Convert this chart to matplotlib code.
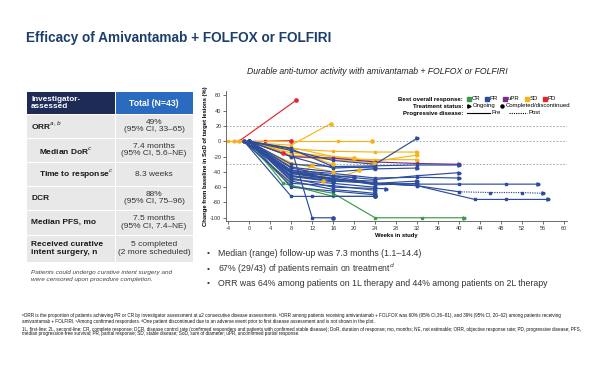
import matplotlib
matplotlib.use("Agg")
import matplotlib.pyplot as plt
from matplotlib import font_manager
from matplotlib.patches import Rectangle

# ---- data -------------------------------------------------------------
# spider plot: one entry per patient (weeks, % change in SoD)
pt_weeks = [
    [-2, 9], [-3, 3, 8], [-1, 3, 6.5],                                   # PD
    [-4, 8, 15.5], [-3, 8, 17, 23.5], [-2, 8, 16, 24, 32],               # SD
    [-1, 8, 16, 24, 32], [0, 8, 16, 24, 32], [-1, 8, 12], [0, 8, 16, 21],
    [-2, 8, 16, 20], [0, 8, 16, 24], [-1, 8, 16], [0, 8, 14], [-2, 8, 16],
    [0, 8, 16, 24, 32, 40],                                              # uPR
    [-1, 8, 16, 24, 33, 41], [0, 6.5, 16, 24],                           # CR
    [-1, 8, 12, 24], [0, 8, 12, 16], [0, 8, 16, 24, 32],                 # PR
    [0, 8, 16, 24, 32, 40], [0, 8, 16, 24, 32, 40], [-1, 8, 16, 24, 32, 40],
    [0, 8, 16, 24, 32, 40, 49, 55], [-1, 8, 16, 24, 32, 40, 46, 52, 56],
    [0, 8, 16, 24, 32, 43, 49, 57], [0, 8, 16, 24], [-1, 8, 16, 24],
    [0, 8, 16, 24], [0, 8, 16, 26], [-1, 8, 16, 24], [0, 8, 16, 20],
    [0, 8, 16, 24], [0, 8, 16, 24], [-1, 8, 12, 16], [0, 8, 16],
    [0, 8, 16, 24, 32], [-1, 8, 16, 24, 32], [0, 8, 16, 24, 32], [0, 8, 16, 24],
]
pt_change = [
    [0, 54], [0, 0, 1], [0, -5, -15],
    [0, -5, 23], [0, 0, 0, 0], [0, -10, -13, -14, -14],
    [0, -15, -20, -26, -18], [0, -18, -22, -24, -24], [0, -54, -31], [0, -32, -50, -38],
    [0, -8, -20, -22], [0, -20, -24, -28], [0, -28, -40], [0, -40, -52], [0, -12, -30],
    [0, -20, -22, -27, -29, -30],
    [0, -58, -68, -100, -100, -100], [0, -55, -72, -72],
    [0, -72, -72, -72], [0, -9, -100, -100], [0, -12, -25, -30, 4],
    [0, -30, -33, -32, -31, -31], [0, -40, -45, -50, -45, -41], [0, -38, -42, -48, -47, -48],
    [0, -45, -52, -55, -56, -56, -56, -56], [0, -40, -50, -55, -58, -66, -67, -67, -68],
    [0, -42, -50, -55, -58, -76, -76, -76], [0, -20, -35, -33], [0, -45, -50, -52],
    [0, -50, -55, -60], [0, -48, -60, -62], [0, -55, -58, -64], [0, -35, -45, -47],
    [0, -10, -33, -35], [0, -52, -63, -68], [0, -40, -44, -50], [0, -46, -53],
    [0, -38, -46, -55, -52], [0, -42, -48, -57, -55], [0, -34, -40, -36, -35], [0, -60, -65, -70],
]
pt_response = (["PD"] * 3 + ["SD"] * 12 + ["uPR"] + ["CR"] * 2 + ["PR"] * 23)
pt_ongoing = [
    False, False, False,
    False, False, True, True, True, False, False, False, True, False, False, False,
    True,
    True, False,
    False, False, True, True, True, True, True, True, True, True, True,
    True, True, True, False, True, True, False, False, True, True, True, True,
]
# index of the first point of the post-progression (dotted) part, None if none
pt_post_from = [None] * len(pt_weeks)
pt_post_from[25] = 5

response_colors = {"CR": "#3a9c48", "PR": "#2c4c9e", "uPR": "#7a2c8c",
                   "SD": "#f5b51a", "PD": "#e3262d"}

table_labels = ["ORR$^{a,b}$", "Median DoR$^{c}$", "Time to response$^{c}$", "DCR",
                "Median PFS, mo", "Received curative\nintent surgery, n"]
table_indent = [False, True, True, False, False, False]
table_values = ["49%\n(95% CI, 33\u201365)", "7.4 months\n(95% CI, 5.6\u2013NE)", "8.3 weeks",
                "88%\n(95% CI, 75\u201396)", "7.5 months\n(95% CI, 7.4\u2013NE)",
                "5 completed\n(2 more scheduled)"]

bullets = ["Median (range) follow-up was 7.3 months (1.1\u201314.4)",
           "67% (29/43) of patients remain on treatment$^{d}$",
           "ORR was 64% among patients on 1L therapy and 44% among patients on 2L therapy"]

footnotes = [
    "\u1d43ORR is the proportion of patients achieving PR or CR by investigator assessment at \u22652 consecutive disease assessments. "
    "\u1d47ORR among patients receiving amivantamab + FOLFOX was 60% (95% CI,36\u201381), and 39% (95% CI, 20\u201362) among patients receiving",
    "amivantamab + FOLFIRI. \u1d9cAmong confirmed responders. \u1d48One patient discontinued due to an adverse event prior to first disease "
    "assessment and is not shown in the plot.",
    "1L, first-line; 2L, second-line; CR, complete response; DCR, disease control rate (confirmed responders and patients with confirmed "
    "stable disease); DoR, duration of response; mo, months; NE, not estimable; ORR, objective response rate; PD, progressive disease; PFS,",
    "median progression-free survival; PR, partial response; SD, stable disease; SoD, sum of diameter; uPR, unconfirmed partial response.",
]

# ---- fonts --------------------------------------------------------------
installed = {f.name for f in font_manager.fontManager.ttflist}
plt.rcParams["font.family"] = ["Liberation Sans", "DejaVu Sans"]
plt.rcParams["mathtext.fontset"] = "custom"
plt.rcParams["mathtext.rm"] = "Liberation Sans"
plt.rcParams["axes.unicode_minus"] = False
narrow = "Liberation Sans Narrow" in installed
title_family = ["Liberation Sans Narrow", "Liberation Sans"] if narrow else ["Liberation Sans"]
title_size = 11.5 if narrow else 9.8

NAVY = "#1d3f6e"

fig = plt.figure(figsize=(6, 3.65), dpi=100)

# ---- spider plot --------------------------------------------------------
ax = fig.add_axes([0.377, 0.395, 0.568, 0.356])
for y in (20, 0, -30):
    ax.axhline(y, color="#9a9a9a", lw=0.6, ls=(0, (2, 2)), zorder=1)

for i, (wk, ch) in enumerate(zip(pt_weeks, pt_change)):
    c = response_colors[pt_response[i]]
    p = pt_post_from[i]
    if p is None:
        ax.plot(wk, ch, color=c, lw=0.85, marker="s", ms=1.5, zorder=3)
    else:
        ax.plot(wk[:p + 1], ch[:p + 1], color=c, lw=0.85, marker="s", ms=1.5, zorder=3)
        ax.plot(wk[p:], ch[p:], color=c, lw=0.85, ls=(0, (1, 1)), marker="s", ms=1.5, zorder=3)
    ax.plot(wk[-1], ch[-1], color=c, marker=">" if pt_ongoing[i] else "o",
            ms=2.3, ls="none", zorder=4)

ax.set_xlim(-4.4, 60.6)
ax.set_ylim(-104, 66)
ax.set_xticks(range(-4, 61, 4))
ax.set_yticks(range(-100, 61, 20))
ax.tick_params(labelsize=4, length=2, width=0.5, pad=1.5, colors="#333333")
for s in ("top", "right"):
    ax.spines[s].set_visible(False)
for s in ("left", "bottom"):
    ax.spines[s].set_linewidth(0.6)
    ax.spines[s].set_color("#555555")
ax.set_xlabel("Weeks in study", fontsize=4.2, fontweight="bold", labelpad=1.5)
ax.set_ylabel("Change from baseline in SoD of target lesions (%)", fontsize=4.2,
              fontweight="bold", labelpad=1.5)

# ---- overlay in pixel coordinates --------------------------------------
ov = fig.add_axes([0, 0, 1, 1])
ov.set_xlim(0, 600)
ov.set_ylim(365, 0)
ov.axis("off")

ov.text(26, 38, "Efficacy of Amivantamab + FOLFOX or FOLFIRI", family=title_family,
        fontsize=title_size, fontweight="bold", color=NAVY, va="center")
ov.text(377, 72, "Durable anti-tumor activity with amivantamab + FOLFOX or FOLFIRI",
        fontsize=6.2, style="italic", ha="center", va="center", color="#222222")

# table
x0, xm, x1 = 27, 115, 193
ov.add_patch(Rectangle((x0, 92), xm - x0, 22, color="#1f2b57", lw=0))
ov.add_patch(Rectangle((xm + 1, 92), x1 - xm - 1, 22, color="#2a6bbf", lw=0))
ov.text(x0 + 4, 103, "Investigator-\nassessed", color="white", fontsize=5.9,
        fontweight="bold", va="center", linespacing=1.1)
ov.text((xm + x1) / 2, 103, "Total (N=43)", color="white", fontsize=6.2,
        fontweight="bold", va="center", ha="center")
row_tops = [114, 138, 162, 186, 210, 235]
row_bots = [138, 162, 186, 210, 235, 262]
for lab, ind, val, t, b in zip(table_labels, table_indent, table_values, row_tops, row_bots):
    ov.add_patch(Rectangle((x0, t + 0.5), xm - x0, b - t - 1, color="#e8e8e8", lw=0))
    ov.add_patch(Rectangle((xm + 1, t + 0.5), x1 - xm - 1, b - t - 1, color="#e8e8e8", lw=0))
    ov.text(x0 + (12 if ind else 4), (t + b) / 2, lab, fontsize=6, fontweight="bold",
            va="center", color="#1a1a1a", linespacing=1.1)
    ov.text((xm + x1) / 2, (t + b) / 2, val, fontsize=6, ha="center", va="center",
            color="#333333", linespacing=1.15)
ov.text(31, 276, "Patients could undergo curative intent surgery and\nwere censored upon procedure completion.",
        fontsize=4.6, style="italic", va="center", color="#444444", linespacing=1.3)

# legend of the spider plot
ov.text(463, 99, "Best overall response:", fontsize=4.3, fontweight="bold", ha="right", va="center")
ov.text(463, 106, "Treatment status:", fontsize=4.3, fontweight="bold", ha="right", va="center")
ov.text(463, 113, "Progressive disease:", fontsize=4.3, fontweight="bold", ha="right", va="center")
for xk, key in zip([469, 487, 505, 527, 545], ["CR", "PR", "uPR", "SD", "PD"]):
    ov.plot(xk, 99, marker="s", ms=2.4, color=response_colors[key], ls="none")
    ov.text(xk + 2.5, 99, key, fontsize=4.3, va="center")
ov.plot(469, 106, marker=">", ms=2.4, color="black", ls="none")
ov.text(473, 106, "Ongoing", fontsize=4.3, va="center")
ov.plot(502, 106, marker="o", ms=2.2, color="black", ls="none")
ov.text(506, 106, "Completed/discontinued", fontsize=4.3, va="center")
ov.plot([467, 490], [113, 113], color="black", lw=0.8)
ov.text(491.5, 113, "Pre", fontsize=4.3, va="center")
ov.plot([509, 527], [113, 113], color="black", lw=0.8, ls=(0, (1, 1)))
ov.text(528.5, 113, "Post", fontsize=4.3, va="center")

# bullets
for yb, txt in zip([253, 269, 284], bullets):
    ov.text(207, yb, "\u2022", fontsize=6, va="center", color="#333333")
    ov.text(218, yb, txt, fontsize=6.3, va="center", color="#333333")

# footnotes
for yf, txt in zip([316, 321.5, 329, 334], footnotes):
    ov.text(22, yf, txt, fontsize=3.3, va="center", color="#111111")

fig.savefig("out.png", dpi=100)
